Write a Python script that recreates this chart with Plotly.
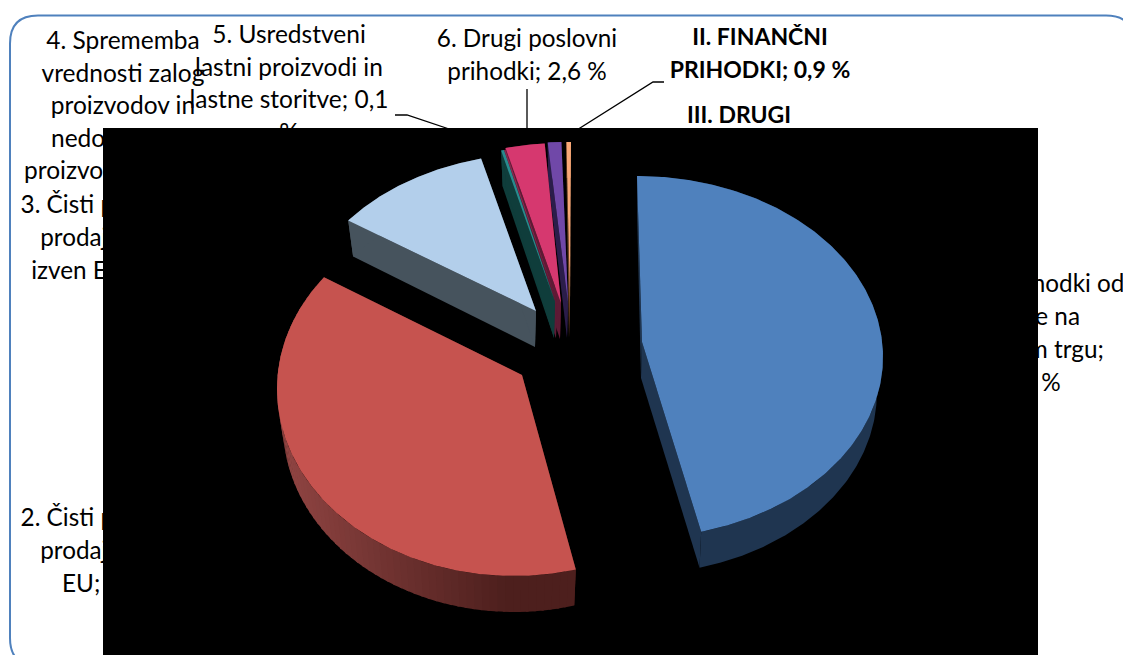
import math
import plotly.graph_objects as go

# ---- data ----
categories = ["1. domači trg", "2. trg EU", "3. izven EU", "4. zaloge", "5. usredstveni",
              "6. drugi poslovni", "II. finančni", "III. drugi"]
shares = [45.8, 39.4, 10.7, 0.2, 0.1, 2.6, 0.9, 0.3]

label_lines = [
    ["1. Čisti prihodki od", "prodaje na", "domačem trgu;", "45,8 %"],
    ["2. Čisti prihodki od", "prodaje na trgu", "EU; 39,4 %"],
    ["3. Čisti prihodki od", "prodaje na trgu", "izven EU; 10,7 %"],
    ["4. Sprememba", "vrednosti zalog", "proizvodov in", "nedokončane", "proizvodnje; 0,2 %"],
    ["5. Usredstveni", "lastni proizvodi in", "lastne storitve; 0,1", "%"],
    ["6. Drugi poslovni", "prihodki; 2,6 %"],
    ["II. FINANČNI", "PRIHODKI; 0,9 %"],
    ["III. DRUGI", "PRIHODKI; 0,3 %"],
]
label_bold = [False, False, False, False, False, False, True, True]

# ---- layout of the label blocks (centre x, first line y, line step) ----
label_pos = [(1024, 286, 33), (121, 520, 33), (121, 207, 33), (123, 43, 32.5),
             (289, 37, 32.5), (527, 41, 33), (760, 39, 33), (739, 117, 33)]
label_size = [24.3, 24.3, 24.3, 24.5, 24.5, 24.3, 23, 23]
leaders = [([395, 407, 470], [115, 115, 136]), ([527, 527], [89, 142]), ([664, 653, 561], [82, 82, 140])]

# ---- pie geometry: each slice's exploded ellipse centre, radii, apex ----
DEPTH = 36
SHRINK = 0.975
slice_geo = [
    dict(cx=637, cy=357, rx=246, ry=181, ax=642, ay=342),
    dict(cx=514, cy=389, rx=237, ry=187, ax=522, ay=375),
    dict(cx=543, cy=321, rx=243, ry=168, ax=536, ay=311),
    dict(cx=563, cy=315, rx=243, ry=170, ax=555, ay=302),
    dict(cx=563, cy=315, rx=243, ry=170, ax=557, ay=302),
    dict(cx=563, cy=316, rx=243, ry=173, ax=561, ay=303),
    dict(cx=566, cy=315, rx=243, ry=173, ax=568, ay=302),
    dict(cx=571, cy=315, rx=243, ry=173, ax=570, ay=302),
]
top_colors = ["#4f81bd", "#c6534f", "#b3cfeb", "#2a8a8f", "#8a2a50", "#d6386f", "#7048a8", "#f9a877"]
side_colors = ["#1f3550", "#4f201e", "#46535d", "#0f3d3b", "#5e1a35", "#5e1a35", "#2b1d4a", "#6b4020"]
# the red wall is lit from the left: colour at its left and right ends
red_wall_ends = ((0x8f, 0x44, 0x42), (0x4d, 0x1f, 0x1d))
red_wall_span = (285, 510)


def arc(g, t0, t1, scale=1.0, dy=0.0):
    n = max(2, int(abs(t1 - t0) * 90))
    xs, ys = [], []
    for i in range(n + 1):
        t = t0 + (t1 - t0) * i / n
        xs.append(g["cx"] + g["rx"] * scale * math.sin(t))
        ys.append(g["cy"] + dy - g["ry"] * math.cos(t))
    return xs, ys


def polygon(fig, xs, ys, color, **kw):
    fig.add_trace(go.Scatter(x=xs + [xs[0]], y=ys + [ys[0]], mode="lines", fill="toself", fillcolor=color,
                             line=dict(width=0), showlegend=False, **kw))


def red_shade(x):
    f = min(1.0, max(0.0, (x - red_wall_span[0]) / (red_wall_span[1] - red_wall_span[0])))
    a, b = red_wall_ends
    return "rgb(" + ",".join(str(round(a[k] + (b[k] - a[k]) * f)) for k in range(3)) + ")"


fig = go.Figure()

# labels and leaders sit below the black panel
for (cx, y0, step), lines, bold, size in zip(label_pos, label_lines, label_bold, label_size):
    fig.add_trace(go.Scatter(
        x=[cx] * len(lines), y=[y0 + step * i for i in range(len(lines))], mode="text",
        text=[f"<b>{s}</b>" if bold else s for s in lines], textposition="middle center",
        textfont=dict(family="Lato", size=size, color="#000000"),
        hoverinfo="skip", showlegend=False))
for lx, ly in leaders:
    fig.add_trace(go.Scatter(x=lx, y=ly, mode="lines", line=dict(color="#000000", width=1.3),
                             hoverinfo="skip", showlegend=False))

# black panel
polygon(fig, [103, 1038, 1038, 103], [128, 128, 655, 655], "#000000", hoverinfo="skip")

# slices
total = sum(shares)
start = 0.0
spans = []
for v in shares:
    end = start + v / total * 2 * math.pi
    spans.append((start, end))
    start = end

# side faces, last slice first so the leftmost slivers stay in front
for i in range(len(spans) - 1, -1, -1):
    t0, t1 = spans[i]
    g = slice_geo[i]
    tx, ty = arc(g, t0, t1)
    bx, by = arc(g, t0, t1, SHRINK, DEPTH)
    bax, bay = g["ax"] - 1, g["ay"] + DEPTH
    polygon(fig, [g["ax"], tx[0], bx[0], bax], [g["ay"], ty[0], by[0], bay], side_colors[i], hoverinfo="skip")
    polygon(fig, [g["ax"], tx[-1], bx[-1], bax], [g["ay"], ty[-1], by[-1], bay], side_colors[i], hoverinfo="skip")
    if categories[i] == "2. trg EU":
        for k in range(0, len(tx) - 1, 3):
            e = min(k + 4, len(tx) - 1)
            polygon(fig, tx[k:e + 1] + bx[k:e + 1][::-1], ty[k:e + 1] + by[k:e + 1][::-1],
                    red_shade(tx[k]), hoverinfo="skip")
    else:
        polygon(fig, tx + bx[::-1], ty + by[::-1], side_colors[i], hoverinfo="skip")

for i, (t0, t1) in enumerate(spans):
    g = slice_geo[i]
    tx, ty = arc(g, t0, t1)
    polygon(fig, [g["ax"]] + tx, [g["ay"]] + ty, top_colors[i], name=categories[i],
            hovertemplate="%{fullData.name}: " + f"{shares[i]} %<extra></extra>")

# rounded frame
L, T, R, B, r = 10, 15.5, 1134, 666, 28
frame = (f"M {L+r} {T} L {R-r} {T} Q {R} {T} {R} {T+r} L {R} {B-r} Q {R} {B} {R-r} {B} "
         f"L {L+r} {B} Q {L} {B} {L} {B-r} L {L} {T+r} Q {L} {T} {L+r} {T} Z")
fig.update_layout(
    width=1123, height=655, margin=dict(l=0, r=0, t=0, b=0),
    paper_bgcolor="white", plot_bgcolor="white", showlegend=False,
    xaxis=dict(range=[0, 1123], visible=False, fixedrange=True),
    yaxis=dict(range=[655, 0], visible=False, fixedrange=True),
    shapes=[dict(type="path", path=frame, line=dict(color="#4f81bd", width=2), layer="below")],
)
fig.write_html("out.html", post_script="document.body.style.margin='0';", config={"displayModeBar": False})
